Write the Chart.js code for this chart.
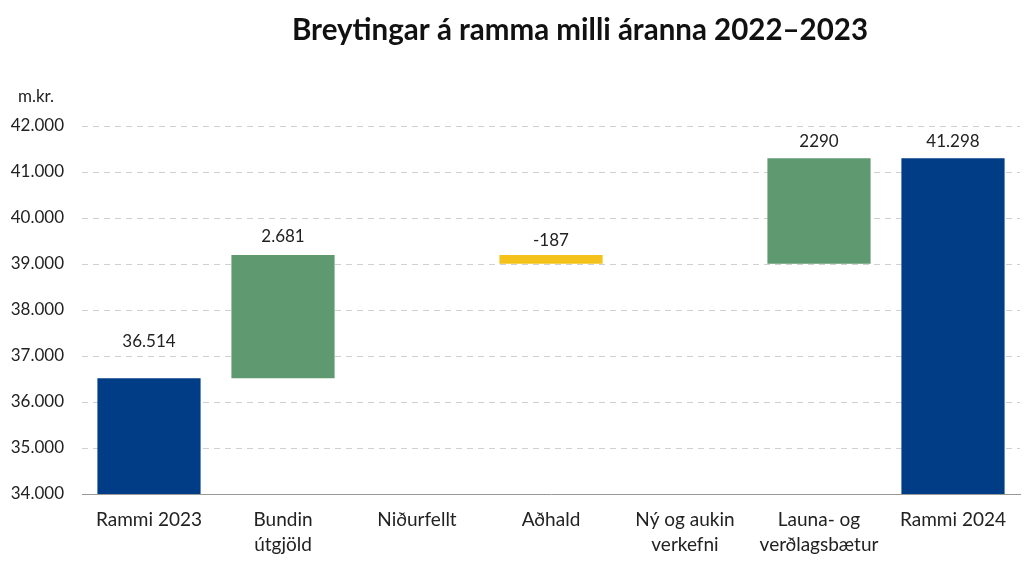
<!DOCTYPE html>
<html>
<head>
<meta charset="utf-8">
<script src="https://cdn.jsdelivr.net/npm/chart.js@4"></script>
<style>
  html, body { margin: 0; padding: 0; background: #fff; }
  #wrap { width: 1024px; height: 562px; }
</style>
</head>
<body>
<div id="wrap"><canvas id="chart" width="1024" height="562"></canvas></div>
<script>
const categories = [
    ["Rammi 2023"], ["Bundin", "útgjöld"], ["Niðurfellt"], ["Aðhald"],
    ["Ný og aukin", "verkefni"], ["Launa- og", "verðlagsbætur"], ["Rammi 2024"]
];

// floating bars: [from, to], null = no bar
const barRanges = [
    [34000, 36514],
    [36514, 39195],
    null,
    [39195, 39008],
    null,
    [39008, 41298],
    [34000, 41298]
];

const valueLabels = ["36.514", "2.681", "", "-187", "", "2290", "41.298"];

const barColors = ['#003d86', '#5f9970', '#5f9970', '#f5c21b', '#5f9970', '#5f9970', '#003d86'];

const yTicks = [34000, 35000, 36000, 37000, 38000, 39000, 40000, 41000, 42000];

const fontFamily = "Lato, 'Noto Sans', sans-serif";
const labelOffsets = [37, 19, 0, 15, 0, 17, 17];

const annotationPlugin = {
    id: 'annotations',
    afterDatasetsDraw(chart) {
        const ctx = chart.ctx;
        const meta = chart.getDatasetMeta(0);
        ctx.save();
        ctx.fillStyle = '#222';
        ctx.font = `17px ${fontFamily}`;
        ctx.textAlign = 'center';
        ctx.textBaseline = 'middle';
        meta.data.forEach((bar, i) => {
            if (!barRanges[i] || !valueLabels[i]) return;
            const top = Math.min(bar.y, bar.base);
            ctx.fillText(valueLabels[i], bar.x, top - labelOffsets[i]);
        });
        ctx.restore();
    },
    afterDraw(chart) {
        const ctx = chart.ctx;
        ctx.save();
        ctx.fillStyle = '#111';
        ctx.font = `bold 29.5px ${fontFamily}`;
        ctx.textAlign = 'center';
        ctx.textBaseline = 'middle';
        ctx.fillText("Breytingar á ramma milli áranna 2022–2023", 580, 30);
        ctx.font = `17px ${fontFamily}`;
        ctx.fillStyle = '#222';
        ctx.fillText("m.kr.", 36, 97);
        ctx.restore();
    }
};

new Chart(document.getElementById('chart'), {
    type: 'bar',
    data: {
        labels: categories,
        datasets: [{
            data: barRanges,
            backgroundColor: barColors,
            borderWidth: 0,
            barPercentage: 0.77,
            categoryPercentage: 1.0,
            borderSkipped: false
        }]
    },
    options: {
        responsive: false,
        animation: false,
        devicePixelRatio: 1,
        layout: { padding: { top: 126, left: 8, right: 4, bottom: 4 } },
        plugins: {
            legend: { display: false },
            tooltip: { enabled: false },
            title: { display: false }
        },
        scales: {
            x: {
                afterFit(axis) {
                    axis.height = 64;
                },
                grid: { display: false, drawTicks: false },
                border: { display: true, color: '#999', width: 1 },
                ticks: {
                    color: '#222',
                    font: { family: fontFamily, size: 19, lineHeight: 1.3 },
                    maxRotation: 0,
                    autoSkip: false,
                    padding: 14
                }
            },
            y: {
                min: 34000,
                max: 42000,
                afterBuildTicks(axis) {
                    axis.ticks = yTicks.map(v => ({ value: v }));
                },
                afterFit(axis) {
                    axis.width = 74;
                },
                grid: { color: '#d0d0d0', drawTicks: false, lineWidth: 1, borderDash: [6, 5] },
                border: { display: false, dash: [6, 5] },
                ticks: {
                    color: '#222',
                    font: { family: fontFamily, size: 17 },
                    padding: 18,
                    callback: v => v.toLocaleString('de-DE')
                }
            }
        }
    },
    plugins: [annotationPlugin]
});
</script>
</body>
</html>
